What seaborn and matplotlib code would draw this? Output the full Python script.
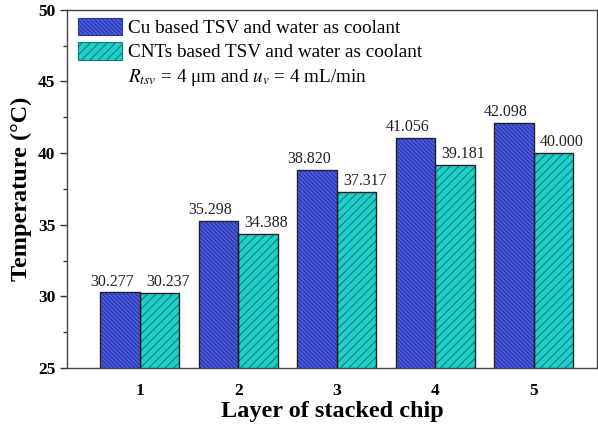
import matplotlib
matplotlib.use("Agg")
import matplotlib.pyplot as plt
from matplotlib.patches import Rectangle
from matplotlib.ticker import MultipleLocator
import seaborn as sns
import pandas as pd

layers = ["1", "2", "3", "4", "5"]
cu_values = [30.277, 35.298, 38.820, 41.056, 42.098]
cnt_values = [30.237, 34.388, 37.317, 39.181, 40.000]
series_names = ["Cu based TSV and water as coolant", "CNTs based TSV and water as coolant"]
note_text = r"$R_{tsv}$ = 4 μm and $u_v$ = 4 mL/min"

df = pd.DataFrame({
    "layer": layers * 2,
    "temp": cu_values + cnt_values,
    "series": [series_names[0]] * 5 + [series_names[1]] * 5,
})

sns.set_theme(style="ticks")
plt.rcParams["font.family"] = ["Liberation Serif", "DejaVu Serif"]
plt.rcParams["mathtext.fontset"] = "stix"
plt.rcParams["hatch.linewidth"] = 0.8
plt.rcParams["text.color"] = "black"
plt.rcParams["axes.labelcolor"] = "black"
plt.rcParams["xtick.labelcolor"] = "black"
plt.rcParams["ytick.labelcolor"] = "black"

face = ["#4b5ae0", "#1fd0c8"]
hatch_col = ["#2a35a8", "#0e7f80"]
hatches = ["\\" * 8, "////"]

fig = plt.figure(figsize=(5.98, 4.28), dpi=100)
ax = fig.add_axes([0.112, 0.14, 0.886, 0.837])

sns.barplot(data=df, x="layer", y="temp", hue="series", hue_order=series_names,
            palette=face, width=0.8, ax=ax, legend=False, saturation=1)

bars = [p for p in ax.patches if isinstance(p, Rectangle)]
for i, p in enumerate(bars):
    s = 0 if i < 5 else 1
    p.set_facecolor(face[s])
    p.set_hatch(hatches[s])
    p.set_edgecolor(hatch_col[s])
    p.set_linewidth(0)
    ax.add_patch(Rectangle(p.get_xy(), p.get_width(), p.get_height(),
                           fill=False, edgecolor="#222222", linewidth=1.0, zorder=p.get_zorder() + 0.1))

shifts = [-5.8, 5.8]
for k, c in enumerate(ax.containers):
    anns = ax.bar_label(c, fmt="%.3f", fontsize=11.5, padding=2, color="#222222")
    for a in anns:
        a.xyann = (shifts[k], 2)

ax.set_ylim(25, 50)
ax.set_xlim(-0.74, 4.64)
ax.yaxis.set_major_locator(MultipleLocator(5))
ax.yaxis.set_minor_locator(MultipleLocator(2.5))
ax.tick_params(axis="y", which="both", direction="out", labelsize=12.5, width=1, color="#333333")
ax.tick_params(axis="y", which="major", length=5)
ax.tick_params(axis="y", which="minor", length=3)
ax.tick_params(axis="x", direction="in", length=5, labelsize=12.5, width=1, color="#333333", pad=11)
for lab in ax.get_xticklabels() + ax.get_yticklabels():
    lab.set_fontweight("bold")

ax.set_xlabel("Layer of stacked chip", fontsize=17.5, fontweight="bold", labelpad=1)
ax.set_ylabel("Temperature (°C)", fontsize=17.5, fontweight="bold", labelpad=4)

for sp in ax.spines.values():
    sp.set_visible(True)
    sp.set_color("#444444")
    sp.set_linewidth(1.0)

handles = [Rectangle((0, 0), 1, 1, facecolor=face[k], hatch=hatches[k], edgecolor=hatch_col[k], linewidth=0.8)
           for k in range(2)]
handles.append(Rectangle((0, 0), 1, 1, fill=False, edgecolor="none", linewidth=0))
ax.legend(handles, series_names + [note_text], loc="upper left", frameon=False,
          fontsize=13.8, handlelength=2.3, handleheight=1.05, handletextpad=0.3,
          labelspacing=0.26, borderpad=0.2, borderaxespad=0.2, bbox_to_anchor=(0.006, 1.0))

fig.savefig("out.png", dpi=100)
